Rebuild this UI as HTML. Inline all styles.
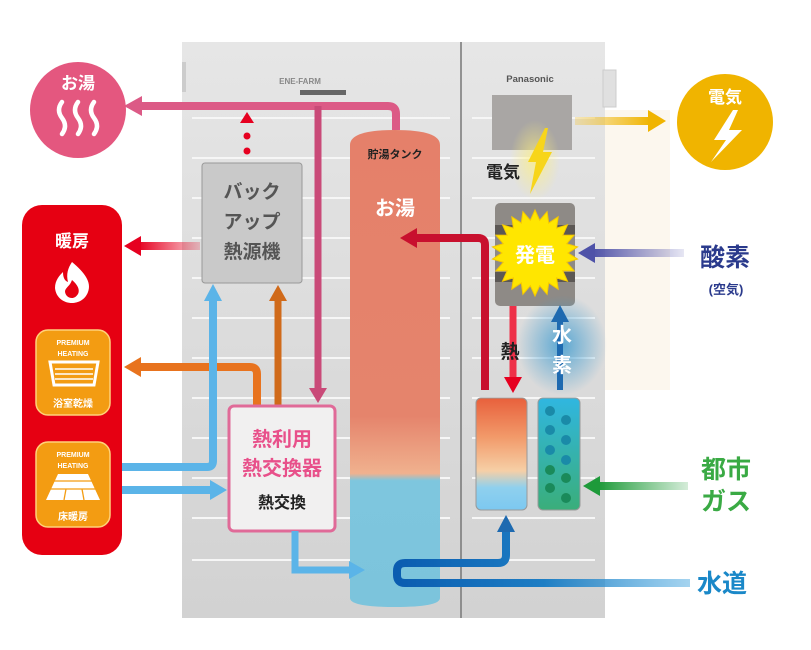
<!DOCTYPE html>
<html><head><meta charset="utf-8"><style>
html,body{margin:0;padding:0;background:#fff;}
svg{display:block;}
text{font-family:"Liberation Sans","Noto Sans CJK JP",sans-serif;font-weight:bold;}
</style></head><body>
<svg width="811" height="650" viewBox="0 0 811 650" xmlns="http://www.w3.org/2000/svg">
<defs>
<linearGradient id="cab" x1="0" y1="0" x2="0" y2="1"><stop offset="0" stop-color="#e6e6e6"/><stop offset="1" stop-color="#d2d2d2"/></linearGradient>
<linearGradient id="tank" x1="0" y1="0" x2="0" y2="1">
<stop offset="0" stop-color="#e5806a"/><stop offset="0.6" stop-color="#e5846c"/><stop offset="0.72" stop-color="#f0b18e"/><stop offset="0.735" stop-color="#7ec6de"/><stop offset="1" stop-color="#7cc4dc"/></linearGradient>
<linearGradient id="cell" x1="0" y1="0" x2="0" y2="1">
<stop offset="0" stop-color="#e8603c"/><stop offset="0.35" stop-color="#f29a6a"/><stop offset="0.65" stop-color="#f6cfa6"/><stop offset="0.8" stop-color="#8fd0ee"/><stop offset="1" stop-color="#7cc8f0"/></linearGradient>
<linearGradient id="gcell" x1="0" y1="0" x2="0" y2="1"><stop offset="0" stop-color="#30b6e0"/><stop offset="1" stop-color="#3aae7a"/></linearGradient>
<linearGradient id="yel" x1="0" y1="0" x2="1" y2="0"><stop offset="0" stop-color="#f2c230" stop-opacity="0.3"/><stop offset="1" stop-color="#f0b400"/></linearGradient>
<linearGradient id="pur" x1="1" y1="0" x2="0" y2="0"><stop offset="0" stop-color="#5a5ab0" stop-opacity="0.15"/><stop offset="1" stop-color="#4e52a8"/></linearGradient>
<linearGradient id="grn" x1="1" y1="0" x2="0" y2="0"><stop offset="0" stop-color="#2aa040" stop-opacity="0.2"/><stop offset="1" stop-color="#1e9a3a"/></linearGradient>
<linearGradient id="wat" x1="1" y1="0" x2="0" y2="0"><stop offset="0" stop-color="#4aa8e0" stop-opacity="0.5"/><stop offset="0.5" stop-color="#1e7ec4"/><stop offset="1" stop-color="#0a5cb0"/></linearGradient>
<linearGradient id="redg" x1="1" y1="0" x2="0" y2="0"><stop offset="0" stop-color="#e60020" stop-opacity="0.2"/><stop offset="1" stop-color="#e60020"/></linearGradient>
<radialGradient id="glow" cx="0.5" cy="0.5" r="0.5"><stop offset="0" stop-color="#3a9ad0" stop-opacity="0.8"/><stop offset="1" stop-color="#3a9ad0" stop-opacity="0"/></radialGradient>
<radialGradient id="ylow" cx="0.5" cy="0.5" r="0.5"><stop offset="0" stop-color="#fff07a" stop-opacity="0.7"/><stop offset="1" stop-color="#fff07a" stop-opacity="0"/></radialGradient>
</defs>
<!-- faint right glow area -->
<rect x="605" y="110" width="65" height="280" fill="#fcf7ee"/>
<!-- cabinet -->
<rect x="182" y="42" width="423" height="576" fill="url(#cab)"/>
<rect x="603" y="70" width="13" height="37" fill="#e0e0e0" stroke="#ccc"/>
<rect x="182" y="62" width="4" height="30" fill="#ccc"/>
<g stroke="#f6f6f6" stroke-width="2">
<line x1="192" y1="118" x2="450" y2="118"/><line x1="472" y1="118" x2="595" y2="118"/>
<line x1="192" y1="158" x2="450" y2="158"/><line x1="472" y1="158" x2="595" y2="158"/>
<line x1="192" y1="198" x2="450" y2="198"/><line x1="472" y1="198" x2="595" y2="198"/>
<line x1="192" y1="238" x2="450" y2="238"/><line x1="472" y1="238" x2="595" y2="238"/>
<line x1="192" y1="278" x2="450" y2="278"/><line x1="472" y1="278" x2="595" y2="278"/>
<line x1="192" y1="318" x2="450" y2="318"/><line x1="472" y1="318" x2="595" y2="318"/>
<line x1="192" y1="358" x2="450" y2="358"/><line x1="472" y1="358" x2="595" y2="358"/>
<line x1="192" y1="398" x2="450" y2="398"/><line x1="472" y1="398" x2="595" y2="398"/>
<line x1="192" y1="438" x2="450" y2="438"/><line x1="472" y1="438" x2="595" y2="438"/>
<line x1="192" y1="478" x2="450" y2="478"/><line x1="472" y1="478" x2="595" y2="478"/>
<line x1="192" y1="518" x2="450" y2="518"/><line x1="472" y1="518" x2="595" y2="518"/>
<line x1="192" y1="560" x2="450" y2="560"/><line x1="472" y1="560" x2="595" y2="560"/>
</g>
<line x1="461" y1="42" x2="461" y2="618" stroke="#777" stroke-width="1.5"/>
<text x="300" y="84" font-size="8" fill="#888" text-anchor="middle" font-weight="normal">ENE-FARM</text>
<rect x="300" y="90" width="46" height="5" fill="#666"/>
<text x="530" y="82" font-size="9.5" fill="#555" text-anchor="middle">Panasonic</text>
<!-- tank -->
<path d="M350,145 Q350,130 395,130 Q440,130 440,145 L440,598 Q440,607 395,607 Q350,607 350,598 Z" fill="url(#tank)"/>
<text x="395" y="158" font-size="11" fill="#222" text-anchor="middle">貯湯タンク</text>
<text x="395" y="215" font-size="20" fill="#fff" text-anchor="middle" font-weight="normal">お湯</text>
<!-- pink hot water -->
<path d="M140,106 L388,106 Q396,106 396,114 L396,130" fill="none" stroke="#dc5a86" stroke-width="8"/>
<polygon points="124,106 142,96 142,116" fill="#dc5a86"/>
<line x1="318" y1="106" x2="318" y2="390" stroke="#c94a78" stroke-width="7"/>
<polygon points="318,403 309,388 327,388" fill="#c94a78"/>
<!-- dotted red -->
<polygon points="247,112 240,123 254,123" fill="#e60020"/>
<circle cx="247" cy="136" r="3.5" fill="#e60020"/><circle cx="247" cy="151" r="3.5" fill="#e60020"/>
<!-- backup box -->
<rect x="202" y="163" width="100" height="120" rx="3" fill="#c9c9c9" stroke="#999" stroke-width="1"/>
<text x="252" y="198" font-size="19" fill="#555" text-anchor="middle">バック</text>
<text x="252" y="228" font-size="19" fill="#555" text-anchor="middle">アップ</text>
<text x="252" y="258" font-size="19" fill="#555" text-anchor="middle">熱源機</text>
<!-- red heating arrow -->
<rect x="138" y="242" width="62" height="8" fill="url(#redg)"/>
<polygon points="124,246 141,236 141,256" fill="#e60020"/>
<!-- お湯 circle -->
<circle cx="78" cy="110" r="48" fill="#e4577f"/>
<text x="78" y="89" font-size="17" fill="#fff" text-anchor="middle" font-weight="normal">お湯</text>
<g fill="none" stroke="#fff" stroke-width="4.5" stroke-linecap="round">
<path d="M62,102 q-6,8 0,16 q6,8 0,16"/><path d="M78,102 q-6,8 0,16 q6,8 0,16"/><path d="M94,102 q-6,8 0,16 q6,8 0,16"/>
</g>
<!-- 暖房 panel -->
<rect x="22" y="205" width="100" height="350" rx="20" fill="#e60012"/>
<text x="72" y="247" font-size="17" fill="#fff" text-anchor="middle" font-weight="normal">暖房</text>
<path d="M72,262 C84,272 92,282 88,292 C85,300 78,303 72,303 C64,303 56,298 55,288 C55,280 60,275 63,272 C63,278 65,281 68,282 C66,274 68,268 72,262 Z" fill="#fff"/>
<path d="M72,280 C78,285 80,290 78,294 C76,297 74,298 72,298 C68,298 65,295 65,291 C66,287 70,286 72,280 Z" fill="#e60012"/>
<rect x="36" y="330" width="74" height="85" rx="12" fill="#f39c12" stroke="#ffd27a" stroke-width="1.5"/>
<text x="73" y="345" font-size="7" fill="#fff" text-anchor="middle" font-weight="normal">PREMIUM</text>
<text x="73" y="356" font-size="7" fill="#fff" text-anchor="middle" font-weight="normal">HEATING</text>
<path d="M50,362 L98,362 L94,385 L54,385 Z" fill="none" stroke="#fff" stroke-width="3"/>
<g stroke="#fff" stroke-width="1.5"><line x1="55" y1="369" x2="93" y2="369"/><line x1="55" y1="374" x2="93" y2="374"/><line x1="55" y1="379" x2="93" y2="379"/></g>
<text x="73" y="407" font-size="10" fill="#fff" text-anchor="middle" font-weight="normal">浴室乾燥</text>
<rect x="36" y="442" width="74" height="85" rx="12" fill="#f39c12" stroke="#ffd27a" stroke-width="1.5"/>
<text x="73" y="457" font-size="7" fill="#fff" text-anchor="middle" font-weight="normal">PREMIUM</text>
<text x="73" y="468" font-size="7" fill="#fff" text-anchor="middle" font-weight="normal">HEATING</text>
<path d="M58,474 L88,474 L100,500 L46,500 Z" fill="#fff"/>
<g stroke="#f39c12" stroke-width="1.3"><line x1="54" y1="481" x2="92" y2="481"/><line x1="50" y1="489" x2="96" y2="489"/><line x1="66" y1="489" x2="64" y2="500"/><line x1="82" y1="489" x2="84" y2="500"/></g>
<text x="73" y="520" font-size="10" fill="#fff" text-anchor="middle" font-weight="normal">床暖房</text>
<!-- orange arrows -->
<path d="M140,367 L250,367 Q257,367 257,374 L257,405" fill="none" stroke="#e8731e" stroke-width="8"/>
<polygon points="124,367 141,357 141,377" fill="#e8731e"/>
<line x1="278" y1="300" x2="278" y2="405" stroke="#d06a1a" stroke-width="7"/>
<polygon points="278,285 269,301 287,301" fill="#d06a1a"/>
<!-- blue arrows -->
<path d="M122,467 L207,467 Q213,467 213,461 L213,300" fill="none" stroke="#5bb4e8" stroke-width="8"/>
<polygon points="213,284 204,301 222,301" fill="#5bb4e8"/>
<line x1="122" y1="490" x2="212" y2="490" stroke="#5bb4e8" stroke-width="8"/>
<polygon points="227,490 210,480 210,500" fill="#5bb4e8"/>
<!-- heat exchanger -->
<rect x="229" y="406" width="106" height="125" rx="5" fill="#f1f0f0" stroke="#e06a98" stroke-width="3"/>
<text x="282" y="446" font-size="20" fill="#e8508a" text-anchor="middle">熱利用</text>
<text x="282" y="475" font-size="20" fill="#e8508a" text-anchor="middle">熱交換器</text>
<text x="282" y="508" font-size="16" fill="#222" text-anchor="middle">熱交換</text>
<path d="M295,531 L295,570 L350,570" fill="none" stroke="#5bb4e8" stroke-width="7"/>
<polygon points="365,570 349,561 349,579" fill="#5bb4e8"/>
<!-- right section -->
<rect x="492" y="95" width="80" height="55" fill="#a9a6a4"/>
<rect x="575" y="117" width="75" height="8" fill="url(#yel)"/>
<polygon points="666,121 648,110 648,132" fill="#f0b400"/>
<circle cx="725" cy="122" r="48" fill="#f0b400"/>
<text x="725" y="103" font-size="17" fill="#fff" text-anchor="middle" font-weight="normal">電気</text>
<polygon points="733,110 714,140 726,140 711,162 742,130 729,130 738,110" fill="#fff"/>
<ellipse cx="535" cy="160" rx="25" ry="40" fill="url(#ylow)"/>
<polygon points="545,128 528,162 536,162 530,194 552,152 543,152 548,128" fill="#f7d51a"/>
<text x="503" y="178" font-size="17" fill="#222" text-anchor="middle">電気</text>
<!-- generator -->
<rect x="495" y="203" width="80" height="103" rx="5" fill="#8e8a86"/>
<rect x="495" y="225" width="80" height="10" fill="#5c5855"/>
<rect x="495" y="272" width="80" height="10" fill="#5c5855"/>
<polygon id="star" fill="#ffe600" stroke="#f5c800" stroke-width="1" points=""/>
<text x="535" y="262" font-size="20" fill="#fff" text-anchor="middle">発電</text>
<rect x="592" y="249" width="92" height="8" fill="url(#pur)"/>
<polygon points="578,253 595,243 595,263" fill="#4e52a8"/>
<text x="725" y="266" font-size="25" fill="#2a3a8c" text-anchor="middle">酸素</text>
<text x="726" y="294" font-size="13" fill="#2a3a8c" text-anchor="middle">(空気)</text>
<!-- red from generator to tank -->
<path d="M485,390 L485,245 Q485,238 478,238 L415,238" fill="none" stroke="#c8102e" stroke-width="8"/>
<polygon points="400,238 417,228 417,248" fill="#c8102e"/>
<line x1="513" y1="306" x2="513" y2="378" stroke="#ee3048" stroke-width="7"/>
<polygon points="513,393 504,377 522,377" fill="#e60020"/>
<text x="510" y="358" font-size="19" fill="#222" text-anchor="middle">熱</text>
<ellipse cx="562" cy="345" rx="45" ry="50" fill="url(#glow)"/>
<line x1="560" y1="322" x2="560" y2="390" stroke="#1e6ab0" stroke-width="6"/>
<polygon points="560,305 551,322 569,322" fill="#1e6ab0"/>
<text x="562" y="342" font-size="20" fill="#fff" text-anchor="middle">水</text>
<text x="562" y="372" font-size="20" fill="#fff" text-anchor="middle">素</text>
<!-- cells -->
<rect x="476" y="398" width="51" height="112" rx="5" fill="url(#cell)" stroke="#999" stroke-width="1"/>
<rect x="538" y="398" width="42" height="112" rx="5" fill="url(#gcell)" stroke="#999" stroke-width="1"/>
<g fill="#1a8aa8">
<circle cx="550" cy="411" r="5"/><circle cx="566" cy="420" r="5"/><circle cx="550" cy="430" r="5"/><circle cx="566" cy="440" r="5"/>
<circle cx="550" cy="450" r="5"/><circle cx="566" cy="460" r="5"/></g>
<g fill="#1a8a5a"><circle cx="550" cy="470" r="5"/><circle cx="566" cy="478" r="5"/><circle cx="550" cy="488" r="5"/><circle cx="566" cy="498" r="5"/></g>
<rect x="598" y="482" width="90" height="8" fill="url(#grn)"/>
<polygon points="583,486 600,476 600,496" fill="#1e9a3a"/>
<text x="726" y="478" font-size="25" fill="#3aaa44" text-anchor="middle">都市</text>
<text x="726" y="510" font-size="25" fill="#3aaa44" text-anchor="middle">ガス</text>
<!-- water -->
<path d="M690,583 L405,583 Q397,583 397,575 L397,571 Q397,563 405,563 L498,563 Q506,563 506,555 L506,530" fill="none" stroke="url(#wat)" stroke-width="8"/>
<path d="M640,583 L405,583 Q397,583 397,575 L397,571 Q397,563 405,563 L498,563 Q506,563 506,555 L506,530" fill="none" stroke="#0b5fae" stroke-width="8" stroke-opacity="0.0"/>
<polygon points="506,515 497,532 515,532" fill="#1e6ab0"/>
<text x="722" y="592" font-size="25" fill="#1a88c8" text-anchor="middle">水道</text>
</svg>
<script>
(function(){var cx=535,cy=253,R=43,r=33,n=22,p=[];for(var i=0;i<2*n;i++){var a=Math.PI*i/n-Math.PI/2,rr=i%2?r:R;p.push((cx+rr*Math.cos(a)).toFixed(1)+","+(cy+rr*Math.sin(a)).toFixed(1));}document.getElementById("star").setAttribute("points",p.join(" "));})();
</script>
</body></html>
